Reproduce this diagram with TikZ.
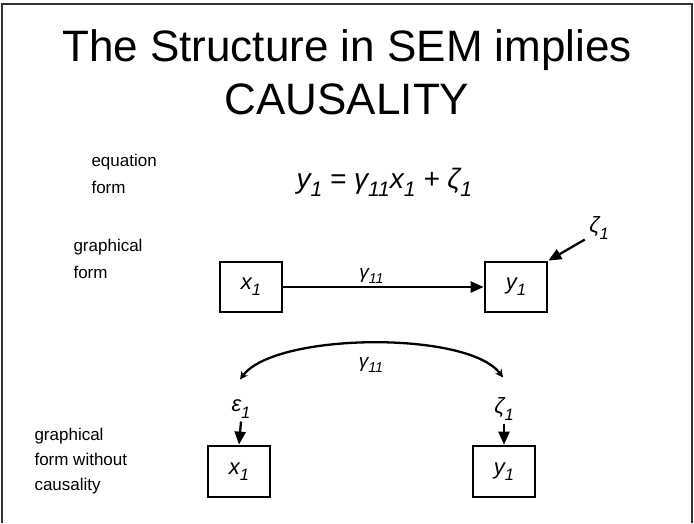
\documentclass[tikz,border=0pt]{standalone}
\usepackage{fontspec}
\setmainfont{Liberation Sans}
\usetikzlibrary{arrows.meta,positioning,calc}

\newcommand{\lo}[1]{\raisebox{-0.28em}{\scalebox{0.75}{#1}}}

\tikzset{
  var/.style={draw,line width=2.8pt,minimum width=62pt,minimum height=50pt,inner sep=0pt,font=\fontsize{22}{24}\selectfont\itshape},
  lbl/.style={font=\fontsize{17}{27}\selectfont,align=left,anchor=west},
  coef/.style={font=\fontsize{19}{21}\selectfont\itshape},
  err/.style={font=\fontsize{22}{24}\selectfont\itshape},
  causal/.style={line width=2.3pt,-{Triangle[length=13pt,width=11pt]}}
}

\begin{document}
\begin{tikzpicture}[x=1pt,y=-1pt]
\useasboundingbox (0,0) rectangle (694,523);
\draw[line width=1.8pt,black!80] (2,523)--(2,4)--(692,4)--(692,523);
\node[font=\fontsize{44}{53}\selectfont,align=center] (title) at (347,72){The Structure in SEM implies\\CAUSALITY};
% equation form
\node[lbl] (eqlbl) at (88,174){equation\\form};
\node[font=\fontsize{28}{30}\selectfont\itshape,anchor=west] (eq) at (293,182){y\lo{1} = γ\lo{11}x\lo{1} + ζ\lo{1}};
% graphical form
\node[lbl] (grlbl) at (70,259){graphical\\form};
\node[var] (x1) at (251,287){x\lo{1}};
\node[var] (y1) at (516,287){y\lo{1}};
\draw[causal] (x1) -- node[coef,above=-1pt,pos=0.44]{γ\lo{11}} (y1);
\node[err] (z1) at (599,228){ζ\lo{1}};
\draw[causal] (z1.south west) ++(-1pt,3pt) coordinate (z1s) -- (y1.north east);
% without causality
\node[lbl,font=\fontsize{17}{25}\selectfont] (nclbl) at (31,461){graphical\\form without\\causality};
\node[var,minimum height=51pt] (x2) at (239,471.5){x\lo{1}};
\node[var,minimum height=51pt] (y2) at (504,471.5){y\lo{1}};
\node[err] (e2) at (241,409){ε\lo{1}};
\node[err] (z2) at (504,409){ζ\lo{1}};
\draw[causal] (e2.south) -- (x2.north);
\draw[causal] (z2.south) -- (y2.north);
\coordinate (cl) at ($(e2.north)+(-1,-17)$);
\coordinate (cr) at ($(z2.north)+(-1,-17)$);
\draw[line width=2.3pt,{Stealth[length=8pt,width=8pt]}-{Stealth[length=8pt,width=8pt]}] (cl) .. controls ($(cl)+(35,-47)$) and ($(cr)+(-35,-47)$) .. (cr);
\node[coef] (g2) at (371,365){γ\lo{11}};
\end{tikzpicture}
\end{document}
